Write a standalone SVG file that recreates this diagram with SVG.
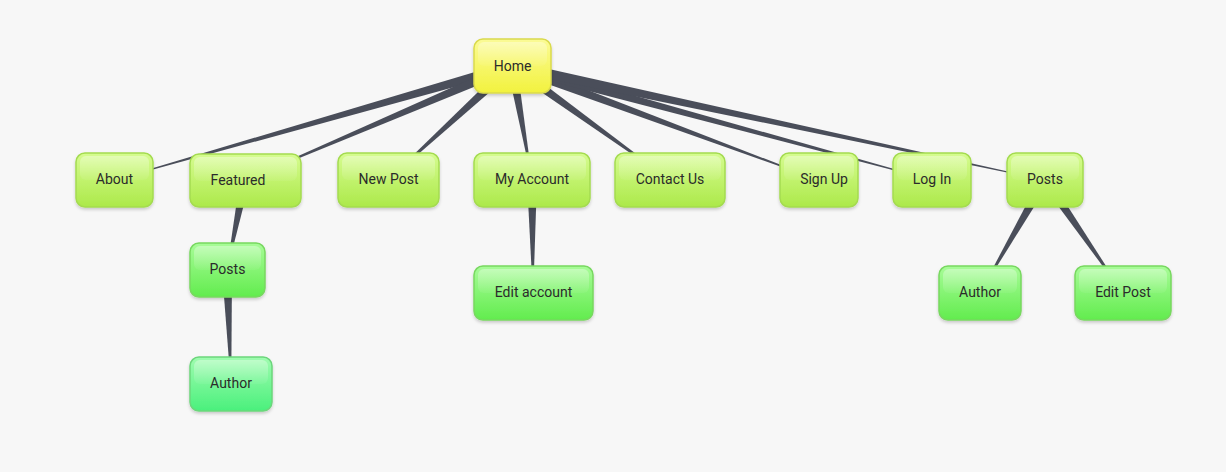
<svg xmlns="http://www.w3.org/2000/svg" width="1226" height="472" viewBox="0 0 1226 472">
  <defs>
    <linearGradient id="gHome" x1="0" y1="0" x2="0" y2="1">
      <stop offset="0" stop-color="#fbfb96"/>
      <stop offset="1" stop-color="#f2f23e"/>
    </linearGradient>
    <linearGradient id="gL1" x1="0" y1="0" x2="0" y2="1">
      <stop offset="0" stop-color="#d6fc90"/>
      <stop offset="1" stop-color="#ace94a"/>
    </linearGradient>
    <linearGradient id="gL2" x1="0" y1="0" x2="0" y2="1">
      <stop offset="0" stop-color="#a8fc98"/>
      <stop offset="1" stop-color="#62ec4e"/>
    </linearGradient>
    <linearGradient id="gL3" x1="0" y1="0" x2="0" y2="1">
      <stop offset="0" stop-color="#a0fcb0"/>
      <stop offset="1" stop-color="#4af07c"/>
    </linearGradient>
    <linearGradient id="gloss" x1="0" y1="0" x2="0" y2="1">
      <stop offset="0" stop-color="#ffffff" stop-opacity="0.35"/>
      <stop offset="1" stop-color="#ffffff" stop-opacity="0.05"/>
    </linearGradient>
    <filter id="sh" x="-20%" y="-20%" width="140%" height="150%">
      <feDropShadow dx="0" dy="2" stdDeviation="1.6" flood-color="#000" flood-opacity="0.18"/>
    </filter>
  </defs>
  <style>
    .box { stroke-width: 1.5; filter: url(#sh); }
    .home { fill: url(#gHome); stroke: #dada4c; }
    .l1 { fill: url(#gL1); stroke: #a4db50; }
    .l2 { fill: url(#gL2); stroke: #78d860; }
    .l3 { fill: url(#gL3); stroke: #6cd67c; }
    .gl { fill: url(#gloss); }
    .lbl { font-family: Roboto, "Liberation Sans", sans-serif; font-size: 14px; fill: #2b2b2b; text-anchor: middle; }
    .wedge { fill: #4a4e5a; }
  </style>
  <rect width="1226" height="472" fill="#f7f7f7"/>

  <g id="connectors">
    <polygon class="wedge" points="510.6,61.2 113.93,179.76 114.07,180.24 513.4,70.8"/>
    <polygon class="wedge" points="510.0,61.4 244.9,179.77 245.1,180.23 514.0,70.6"/>
    <polygon class="wedge" points="508.6,62.3 387.83,179.82 388.17,180.18 515.4,69.7"/>
    <polygon class="wedge" points="507.1,66.9 531.75,180.04 532.25,179.96 516.9,65.1"/>
    <polygon class="wedge" points="509.1,70.1 669.85,180.2 670.15,179.8 514.9,61.9"/>
    <polygon class="wedge" points="510.3,70.7 818.91,180.23 819.09,179.77 513.7,61.3"/>
    <polygon class="wedge" points="510.7,70.8 931.93,180.24 932.07,179.76 513.3,61.2"/>
    <polygon class="wedge" points="511.0,70.9 1044.95,180.24 1045.05,179.76 513.1,61.1"/>
    <polygon class="wedge" points="240.1,179.0 226.75,269.95 227.25,270.05 249.9,181.0"/>
    <polygon class="wedge" points="222.0,270.2 230.75,384.0 231.25,384.0 232.0,269.8"/>
    <polygon class="wedge" points="527.0,180.0 532.75,293.0 533.25,293.0 537.0,180.0"/>
    <polygon class="wedge" points="1040.7,177.5 979.78,292.88 980.22,293.12 1049.3,182.5"/>
    <polygon class="wedge" points="1040.9,182.8 1122.79,293.14 1123.21,292.86 1049.1,177.2"/>
  </g>

  <g id="home">
    <rect class="box home" x="474" y="39" width="77" height="54" rx="9"/>
    <rect class="gl" x="478" y="42" width="69" height="24" rx="6"/>
    <text class="lbl" x="512.5" y="71">Home</text>
  </g>
  <g id="about">
    <rect class="box l1" x="76" y="153" width="77" height="54" rx="9"/>
    <rect class="gl" x="80" y="156" width="69" height="24" rx="6"/>
    <text class="lbl" x="114.5" y="184">About</text>
  </g>
  <g id="featured">
    <rect class="box l1" x="190" y="154" width="111" height="53" rx="9"/>
    <rect class="gl" x="194" y="157" width="103" height="24" rx="6"/>
    <text class="lbl" x="238" y="185">Featured</text>
  </g>
  <g id="new-post">
    <rect class="box l1" x="338" y="153" width="101" height="54" rx="9"/>
    <rect class="gl" x="342" y="156" width="93" height="24" rx="6"/>
    <text class="lbl" x="388.5" y="184">New Post</text>
  </g>
  <g id="my-account">
    <rect class="box l1" x="474" y="153" width="116" height="54" rx="9"/>
    <rect class="gl" x="478" y="156" width="108" height="24" rx="6"/>
    <text class="lbl" x="532" y="184">My Account</text>
  </g>
  <g id="contact-us">
    <rect class="box l1" x="615" y="153" width="110" height="54" rx="9"/>
    <rect class="gl" x="619" y="156" width="102" height="24" rx="6"/>
    <text class="lbl" x="670" y="184">Contact Us</text>
  </g>
  <g id="sign-up">
    <rect class="box l1" x="780" y="153" width="78" height="54" rx="9"/>
    <rect class="gl" x="784" y="156" width="70" height="24" rx="6"/>
    <text class="lbl" x="824" y="184">Sign Up</text>
  </g>
  <g id="log-in">
    <rect class="box l1" x="893" y="153" width="78" height="54" rx="9"/>
    <rect class="gl" x="897" y="156" width="70" height="24" rx="6"/>
    <text class="lbl" x="932" y="184">Log In</text>
  </g>
  <g id="posts-right">
    <rect class="box l1" x="1007" y="153" width="76" height="54" rx="9"/>
    <rect class="gl" x="1011" y="156" width="68" height="24" rx="6"/>
    <text class="lbl" x="1045" y="184">Posts</text>
  </g>
  <g id="posts-left">
    <rect class="box l2" x="190" y="243" width="75" height="54" rx="9"/>
    <rect class="gl" x="194" y="246" width="67" height="24" rx="6"/>
    <text class="lbl" x="227.5" y="274">Posts</text>
  </g>
  <g id="author-left">
    <rect class="box l3" x="190" y="357" width="82" height="54" rx="9"/>
    <rect class="gl" x="194" y="360" width="74" height="24" rx="6"/>
    <text class="lbl" x="231" y="388">Author</text>
  </g>
  <g id="edit-account">
    <rect class="box l2" x="474" y="266" width="119" height="54" rx="9"/>
    <rect class="gl" x="478" y="269" width="111" height="24" rx="6"/>
    <text class="lbl" x="533.5" y="297">Edit account</text>
  </g>
  <g id="author-right">
    <rect class="box l2" x="939" y="266" width="82" height="54" rx="9"/>
    <rect class="gl" x="943" y="269" width="74" height="24" rx="6"/>
    <text class="lbl" x="980" y="297">Author</text>
  </g>
  <g id="edit-post">
    <rect class="box l2" x="1075" y="266" width="96" height="54" rx="9"/>
    <rect class="gl" x="1079" y="269" width="88" height="24" rx="6"/>
    <text class="lbl" x="1123" y="297">Edit Post</text>
  </g>
</svg>
